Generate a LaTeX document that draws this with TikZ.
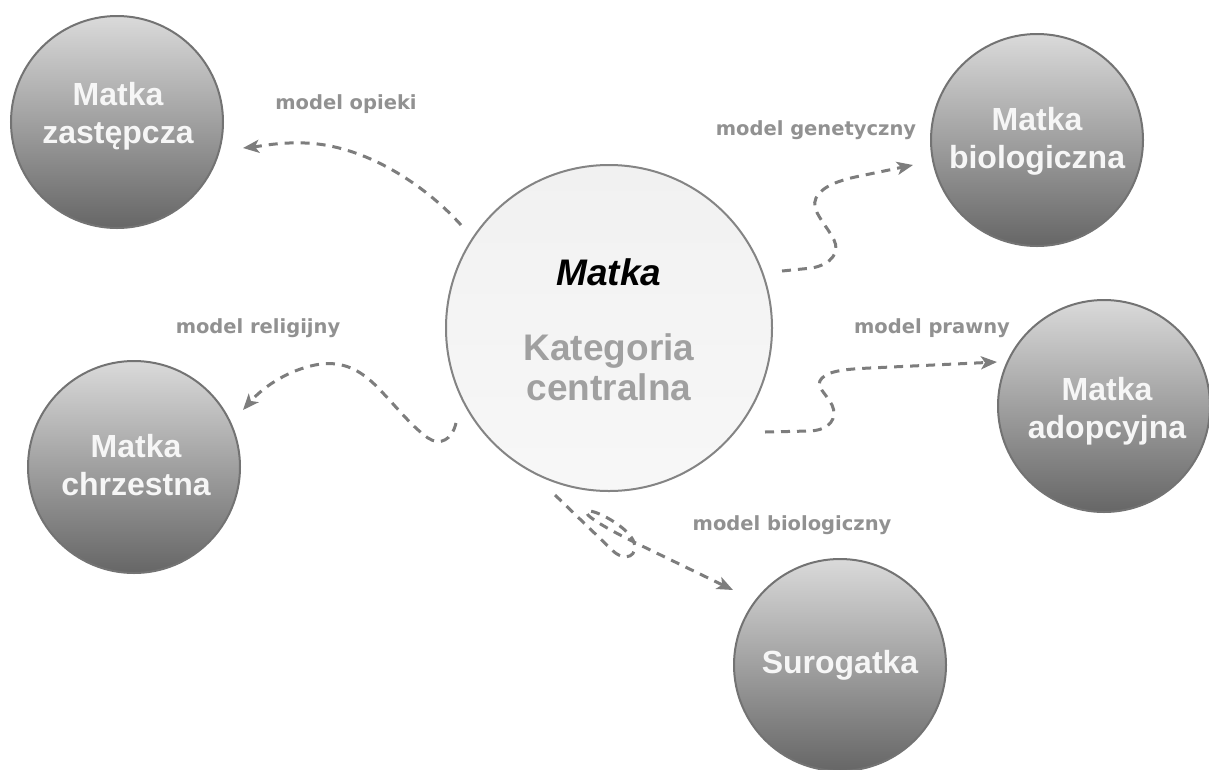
\documentclass[tikz,border=0pt]{standalone}
\usepackage{fontspec}
\setmainfont{Liberation Sans}
\newfontfamily\labelfont{DejaVu Sans}
\usetikzlibrary{arrows.meta}
\definecolor{conn}{RGB}{125,125,125}
\definecolor{lab}{RGB}{145,145,145}
\definecolor{outtop}{RGB}{218,218,218}
\definecolor{outbot}{RGB}{102,102,102}
\definecolor{outline}{RGB}{115,115,115}
\definecolor{ctrfill}{RGB}{241,241,241}
\definecolor{ctrline}{RGB}{132,132,132}
\definecolor{ctrtext}{RGB}{160,160,160}
\definecolor{outtext}{RGB}{246,246,246}
\begin{document}
\begin{tikzpicture}[x=1pt,y=-1pt,
  outer/.style={circle, draw=outline, line width=2pt, top color=outtop, bottom color=outbot, minimum size=212pt, inner sep=0pt},
  central/.style={circle, draw=ctrline, line width=2pt, top color=ctrfill, bottom color=white!97!black, minimum size=326pt, inner sep=0pt},
  outtxt/.style={font=\bfseries\fontsize{32}{38}\selectfont, text=outtext, align=center, inner sep=0pt},
  modellabel/.style={font=\labelfont\bfseries\fontsize{19.5}{23}\selectfont, text=lab, anchor=base, inner sep=0pt},
  link/.style={draw=conn, line width=3pt, dash pattern=on 9pt off 7pt, -{Stealth[length=16pt,width=13pt,inset=4pt]}}
]
\fill[white] (0,0) rectangle (1209,769);
\useasboundingbox (0,0) rectangle (1209,769);

% circles
\node[central] (ctr) at (609,328) {};
\node[outer] (zast) at (117,122) {};
\node[outer] (bio) at (1037,140) {};
\node[outer] (chrz) at (134,467) {};
\node[outer] (adop) at (1104,406) {};
\node[outer] (surog) at (840,665) {};

% circle texts
\node[font=\bfseries\itshape\fontsize{37}{40}\selectfont, anchor=base, inner sep=0pt] (ctr-a) at (609,285) {Matka};
\node[font=\bfseries\fontsize{37}{40}\selectfont, text=ctrtext, align=center, inner sep=0pt] (ctr-b) at (609,367) {Kategoria\\centralna};
\node[outtxt] (zast-t) at (118,116) {Matka\\zastępcza};
\node[outtxt] (bio-t) at (1037,141) {Matka\\biologiczna};
\node[outtxt] (chrz-t) at (136,465) {Matka\\chrzestna};
\node[outtxt] (adop-t) at (1107,411) {Matka\\adopcyjna};
\node[outtxt] (surog-t) at (840,665) {Surogatka};

% labels
\node[modellabel] (l-opieki) at (346,109) {model opieki};
\node[modellabel] (l-gen) at (816,135) {model genetyczny};
\node[modellabel] (l-rel) at (258,333) {model religijny};
\node[modellabel] (l-praw) at (932,333) {model prawny};
\node[modellabel] (l-biol) at (792,530) {model biologiczny};

% connector end points
\coordinate (s1) at (461,225); \coordinate (e1) at (243,148);
\coordinate (s2) at (782,271); \coordinate (e2) at (913,165);
\coordinate (s3) at (765,432); \coordinate (e3) at (997,362);
\coordinate (s4) at (456,423); \coordinate (e4) at (243,410);
\coordinate (s5) at (555,495); \coordinate (e5) at (733,590);

% connectors
\draw[link] (s1) .. controls (425,185) and (365,145) .. (305,143)
  .. controls (280,142) and (262,146) .. (e1);
\draw[link] (s2) -- (812,268) .. controls (832,264) and (840,252) .. (834,240)
  .. controls (826,224) and (810,210) .. (816,198)
  .. controls (822,186) and (840,180) .. (860,176) -- (e2);
\draw[link] (s3) -- (810,431) .. controls (830,430) and (838,418) .. (832,405)
  .. controls (826,393) and (814,386) .. (822,378)
  .. controls (830,370) and (850,369) .. (870,368) -- (e3);
\draw[link] (s4) .. controls (452,440) and (440,446) .. (428,438)
  .. controls (410,425) and (395,405) .. (380,390)
  .. controls (360,368) and (340,360) .. (315,365)
  .. controls (290,370) and (265,385) .. (e4);
\draw[link] (s5) -- (612,550) .. controls (625,563) and (640,556) .. (633,540)
  .. controls (626,526) and (596,510) .. (588,511)
  .. controls (580,513) and (605,528) .. (640,545) -- (e5);
\end{tikzpicture}
\end{document}
